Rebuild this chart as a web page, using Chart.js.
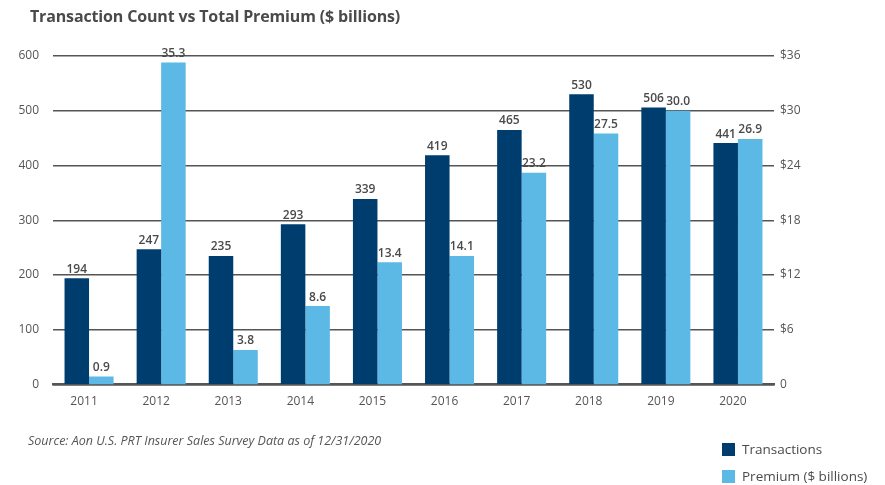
<!DOCTYPE html>
<html>
<head>
<meta charset="utf-8">
<script src="https://cdn.jsdelivr.net/npm/chart.js@4.4.1/dist/chart.umd.min.js"></script>
<style>
  html, body { margin: 0; padding: 0; background: #fff; }
  #wrap { position: relative; width: 885px; height: 485px; }
</style>
</head>
<body>
<div id="wrap"><canvas id="prtChart" width="885" height="485"></canvas></div>
<script>
// PRT market: yearly deal count against total premium written
const years = ["2011", "2012", "2013", "2014", "2015", "2016", "2017", "2018", "2019", "2020"];
const transactions = [194, 247, 235, 293, 339, 419, 465, 530, 506, 441];
const premium = [0.9, 35.3, 3.8, 8.6, 13.4, 14.1, 23.2, 27.5, 30.0, 26.9];
const countTicks = [0, 100, 200, 300, 400, 500, 600];
const premiumTicks = [0, 6, 12, 18, 24, 30, 36];

const navy = "#003d6f";
const sky = "#5cb8e4";
const textGrey = "#555555";
const fontFamily = "'Open Sans', 'Noto Sans', sans-serif";

// value labels above every bar
const barValues = {
  id: "barValues",
  afterDatasetsDraw(chart) {
    const ctx = chart.ctx;
    ctx.save();
    ctx.font = "600 12px " + fontFamily;
    ctx.fillStyle = "#4a4a4a";
    ctx.textAlign = "center";
    ctx.textBaseline = "bottom";
    chart.data.datasets.forEach((ds, i) => {
      chart.getDatasetMeta(i).data.forEach((bar, j) => {
        const v = ds.data[j];
        const txt = i === 1 ? v.toFixed(1) : String(v);
        ctx.fillText(txt, bar.x, bar.y - 3);
      });
    });
    ctx.restore();
  }
};

// heading, source note and the stacked legend in the bottom right
const frame = {
  id: "frame",
  afterDraw(chart) {
    const ctx = chart.ctx;
    ctx.save();
    ctx.fillStyle = "#4a4a4a";
    ctx.textBaseline = "middle";
    ctx.textAlign = "left";
    ctx.font = "bold 16px " + fontFamily;
    ctx.letterSpacing = "-0.15px";
    ctx.fillText("Transaction Count vs Total Premium ($ billions)", 30, 17);
    ctx.letterSpacing = "0px";

    ctx.fillStyle = textGrey;
    ctx.font = "italic 12.5px " + fontFamily;
    ctx.fillText("Source: Aon U.S. PRT Insurer Sales Survey Data as of 12/31/2020", 28, 441);

    ctx.font = "13.5px " + fontFamily;
    chart.data.datasets.forEach((ds, i) => {
      const y = 450 + i * 27;
      ctx.fillStyle = ds.backgroundColor;
      ctx.fillRect(722, y - 7, 13, 13);
      ctx.fillStyle = "#4a4a4a";
      ctx.fillText(ds.label, 742, y);
    });
    ctx.restore();
  }
};

new Chart(document.getElementById("prtChart"), {
  type: "bar",
  data: {
    labels: years,
    datasets: [
      {
        label: "Transactions",
        data: transactions,
        backgroundColor: navy,
        yAxisID: "y",
        order: 1
      },
      {
        label: "Premium ($ billions)",
        data: premium,
        backgroundColor: sky,
        yAxisID: "y1",
        order: 2
      }
    ]
  },
  options: {
    responsive: false,
    animation: false,
    devicePixelRatio: 1,
    layout: { padding: { top: 56, bottom: 74, left: 0, right: 0 } },
    datasets: {
      bar: { barPercentage: 1, categoryPercentage: 0.68 }
    },
    scales: {
      x: {
        grid: { display: false },
        border: { display: true, color: "#555", width: 2.5 },
        ticks: {
          color: textGrey,
          font: { family: fontFamily, size: 12 },
          padding: 2,
          labelOffset: -5,
          maxRotation: 0
        }
      },
      y: {
        position: "left",
        min: 0,
        max: 600,
        afterBuildTicks(scale) {
          scale.ticks = countTicks.map((v) => ({ value: v }));
        },
        afterFit(scale) { scale.width = 53; },
        border: { display: false },
        grid: { color: "#555", lineWidth: 1.4, drawTicks: false },
        ticks: {
          color: textGrey,
          font: { family: fontFamily, size: 12 },
          padding: 14
        }
      },
      y1: {
        position: "right",
        min: 0,
        max: 36,
        afterBuildTicks(scale) {
          scale.ticks = premiumTicks.map((v) => ({ value: v }));
        },
        afterFit(scale) { scale.width = 111; },
        border: { display: false },
        grid: { display: false, drawTicks: false },
        ticks: {
          color: textGrey,
          font: { family: fontFamily, size: 12 },
          padding: 6,
          callback: (v) => (v === 0 ? "0" : "$" + v)
        }
      }
    },
    plugins: {
      legend: { display: false },
      tooltip: { enabled: false }
    }
  },
  plugins: [barValues, frame]
});
</script>
</body>
</html>
